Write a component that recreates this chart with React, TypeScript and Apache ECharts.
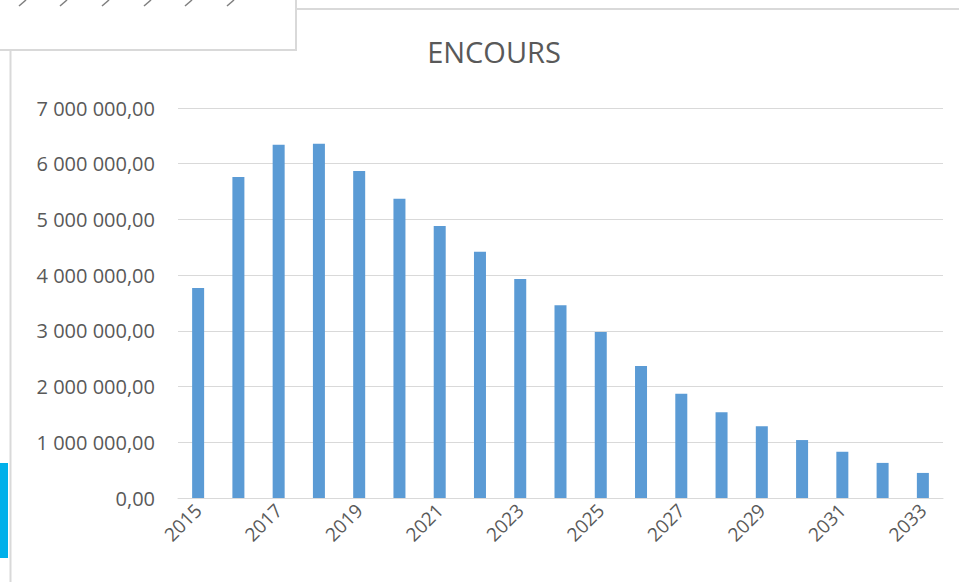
import React, { useEffect, useRef } from "react";
import * as echarts from "echarts";

const categories = ["2015","2016","2017","2018","2019","2020","2021","2022","2023","2024","2025","2026","2027","2028","2029","2030","2031","2032","2033"];
const encours = [3770000,5760000,6340000,6360000,5870000,5370000,4880000,4420000,3930000,3460000,2980000,2370000,1870000,1540000,1290000,1040000,830000,630000,450000];
const title = "ENCOURS";

function fmt(v: number): string {
  const s = Math.round(v).toString();
  const parts: string[] = [];
  for (let i = s.length; i > 0; i -= 3) parts.unshift(s.substring(Math.max(0, i - 3), i));
  return parts.join(" ") + ",00";
}

export default function App() {
  const ref = useRef<HTMLDivElement>(null);
  useEffect(() => {
    if (!ref.current) return;
    const chart = echarts.init(ref.current, undefined, { renderer: "svg" });
    const font = "'Open Sans', Lato, sans-serif";
    const marks: any[] = [22, 63, 105, 147, 188, 230].map((x) => ({
      type: "polyline",
      shape: { points: [[x - 3, 6], [x + 4, 0]] },
      style: { stroke: "#7f7f7f", lineWidth: 1.5, fill: "none" },
    }));
    chart.setOption({
      animation: false,
      backgroundColor: "#ffffff",
      title: {
        text: title,
        left: 489,
        textAlign: "center",
        top: 32,
        textStyle: { fontFamily: font, fontSize: 29, fontWeight: "normal", color: "#595959" },
      },
      grid: { left: 178, right: 16, top: 108, bottom: 84 },
      xAxis: {
        type: "category",
        data: categories,
        axisLine: { lineStyle: { color: "#d9d9d9", width: 1 } },
        axisTick: { show: false },
        axisLabel: {
          interval: 1,
          rotate: 45,
          margin: 9,
          fontFamily: font,
          fontSize: 19,
          color: "#595959",
        },
      },
      yAxis: {
        type: "value",
        min: 0,
        max: 7000000,
        interval: 1000000,
        axisLine: { show: false },
        axisTick: { show: false },
        splitLine: { lineStyle: { color: "#d9d9d9", width: 1 } },
        axisLabel: {
          margin: 23,
          fontFamily: font,
          fontSize: 20,
          color: "#595959",
          formatter: (v: number) => fmt(v),
        },
      },
      series: [
        {
          type: "bar",
          data: encours,
          barWidth: 12,
          itemStyle: { color: "#5b9bd5" },
        },
      ],
      graphic: [
        { type: "line", shape: { x1: 296, y1: 9, x2: 959, y2: 9 }, style: { stroke: "#d9d9d9", lineWidth: 2 } },
        { type: "line", shape: { x1: 10.5, y1: 50, x2: 10.5, y2: 582 }, style: { stroke: "#d9d9d9", lineWidth: 2 } },
        { type: "rect", shape: { x: -2, y: -2, width: 298, height: 52 }, style: { fill: "#ffffff", stroke: "#d9d9d9", lineWidth: 2 } },
        { type: "rect", shape: { x: 0, y: 463, width: 8, height: 95 }, style: { fill: "#00b0ea" } },
        ...marks,
      ],
    });
    return () => chart.dispose();
  }, []);
  return <div ref={ref} style={{ position: "fixed", left: 0, top: 0, width: 959, height: 582 }} />;
}
